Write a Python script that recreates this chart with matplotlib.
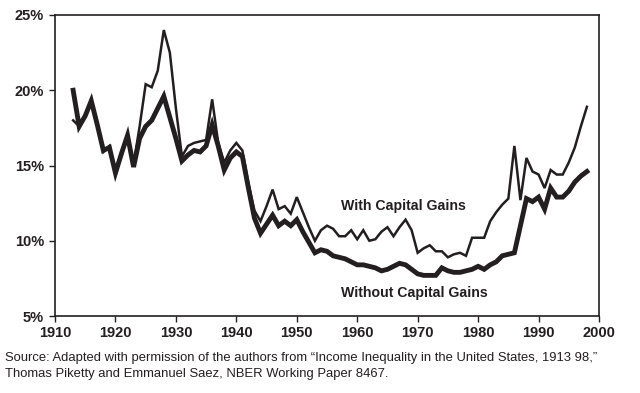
import matplotlib
matplotlib.use("Agg")
import matplotlib.pyplot as plt
from matplotlib.ticker import FuncFormatter

plt.rcParams['font.family'] = ['Liberation Sans', 'DejaVu Sans']

years = list(range(1913, 1999))

# top 1% income share (%)
without_cg = [20.0, 17.6, 18.3, 19.3, 17.7, 16.0, 16.2, 14.5, 15.8, 17.0,
              14.9, 16.8, 17.6, 18.0, 18.8, 19.6, 18.2, 16.8, 15.3, 15.7,
              16.0, 15.9, 16.3, 17.7, 16.3, 14.7, 15.5, 15.9, 15.6, 13.5,
              11.5, 10.5, 11.1, 11.7, 11.0, 11.3, 11.0, 11.4, 10.6, 9.9,
              9.2, 9.4, 9.3, 9.0, 8.9, 8.8, 8.6, 8.4, 8.4, 8.3,
              8.2, 8.0, 8.1, 8.3, 8.5, 8.4, 8.1, 7.8, 7.7, 7.7,
              7.7, 8.2, 8.0, 7.9, 7.9, 8.0, 8.1, 8.3, 8.1, 8.4,
              8.6, 9.0, 9.1, 9.2, 11.0, 12.8, 12.6, 12.9, 12.1, 13.5,
              12.9, 12.9, 13.3, 13.9, 14.3, 14.6]

with_cg = [18.0, 17.6, 18.3, 19.4, 17.8, 15.9, 16.3, 14.7, 15.9, 17.1,
           15.1, 17.6, 20.4, 20.2, 21.3, 24.0, 22.5, 18.8, 15.6, 16.3,
           16.5, 16.6, 16.7, 19.4, 16.5, 15.2, 16.0, 16.5, 16.0, 13.8,
           12.0, 11.3, 12.3, 13.4, 12.1, 12.3, 11.8, 12.9, 11.9, 10.9,
           10.0, 10.7, 11.0, 10.8, 10.3, 10.3, 10.7, 10.1, 10.7, 10.0,
           10.1, 10.6, 10.9, 10.3, 10.9, 11.4, 10.7, 9.2, 9.5, 9.7,
           9.3, 9.3, 8.9, 9.1, 9.2, 9.0, 10.2, 10.2, 10.2, 11.3,
           11.9, 12.4, 12.8, 16.3, 12.7, 15.5, 14.6, 14.4, 13.5, 14.7,
           14.4, 14.4, 15.2, 16.2, 17.6, 18.9]

xticks = list(range(1910, 2001, 10))
yticks = [5, 10, 15, 20, 25]

source = ("Source: Adapted with permission of the authors from \u201cIncome Inequality in the United States, 1913 98,\u201d\n"
          "Thomas Piketty and Emmanuel Saez, NBER Working Paper 8467.")

ink = '#231f20'

fig = plt.figure(figsize=(6.4, 3.93), dpi=100)
ax = fig.add_axes([55/640, 1 - 316/393, 544/640, 301/393])

ax.plot(years, with_cg, color=ink, lw=1.8, solid_joinstyle='miter')
ax.plot(years, without_cg, color=ink, lw=3.5, solid_joinstyle='miter')

ax.set_xlim(1910, 2000)
ax.set_ylim(5, 25)
ax.set_xticks(xticks)
ax.set_yticks(yticks)
ax.yaxis.set_major_formatter(FuncFormatter(lambda v, p: f"{int(v)}%"))

for s in ax.spines.values():
    s.set_color(ink)
    s.set_linewidth(1.2)

ax.tick_params(axis='both', colors=ink, length=4, width=1.0, labelsize=10.5)
ax.tick_params(axis='x', pad=3)
ax.tick_params(axis='y', pad=4)
for lab in ax.get_xticklabels() + ax.get_yticklabels():
    lab.set_fontweight('bold')

ax.text(1957.3, 12.3, "With Capital Gains", fontsize=10.2, fontweight='bold',
        color=ink, va='center', ha='left')
ax.text(1957.3, 6.5, "Without Capital Gains", fontsize=10.2, fontweight='bold',
        color=ink, va='center', ha='left')

fig.text(5/640, 1 - 366/393, source, fontsize=9.4, color=ink,
         va='center', ha='left', linespacing=1.35)

fig.savefig("out.png", dpi=100)
